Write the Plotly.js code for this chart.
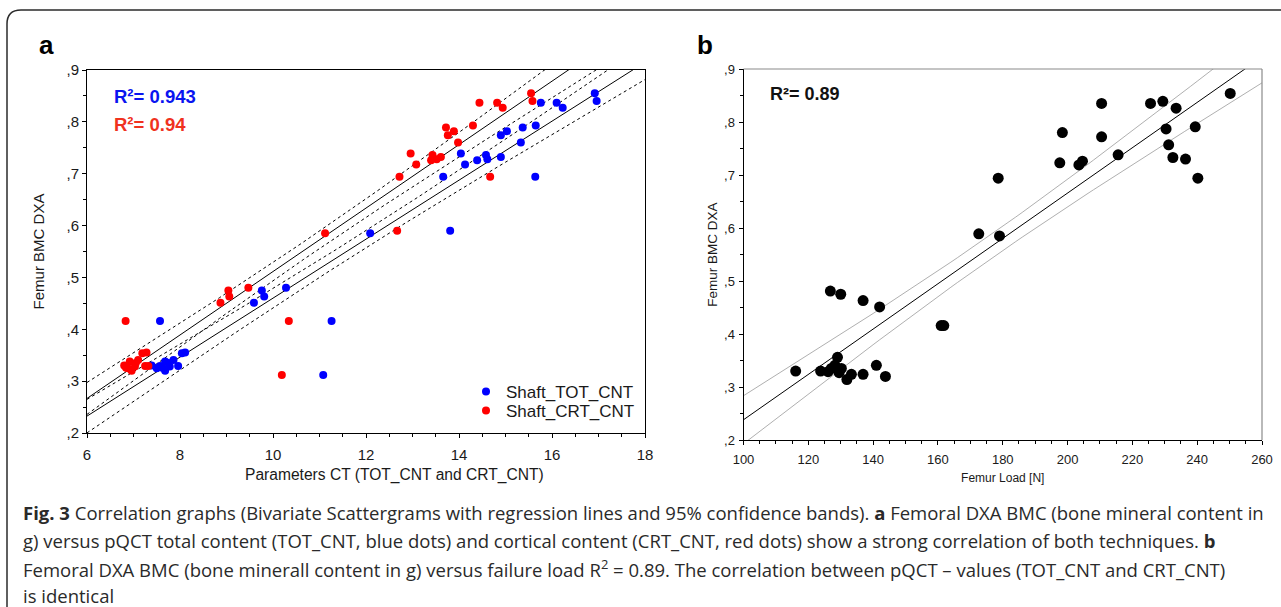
<!DOCTYPE html>
<html>
<head>
<meta charset="utf-8">
<script src="https://cdn.plot.ly/plotly-3.0.1.min.js"></script>
<style>
  html, body { margin: 0; padding: 0; background: #fff; }
  #chart { width: 1281px; height: 607px; }
</style>
</head>
<body>
<div id="chart"></div>
<script>
// ---------- Data ----------
// Panel a: Femur BMC DXA vs pQCT parameters
const bmcA = [0.855,0.840,0.837,0.837,0.827,0.793,0.789,0.782,0.774,0.760,0.739,0.736,0.732,0.728,0.726,0.718,0.694,0.694,0.590,0.585,0.480,0.475,0.463,0.451,0.416,0.416,0.312,0.355,0.354,0.341,0.338,0.335,0.330,0.329,0.329,0.328,0.325,0.320,0.326];
const crtCnt = [15.55,15.58,14.44,14.82,14.94,14.30,13.72,13.89,13.76,13.98,12.96,13.43,13.61,13.52,13.40,13.08,12.72,14.67,12.67,11.12,9.47,9.04,9.06,8.87,6.83,10.34,10.19,7.28,7.19,7.10,6.92,7.05,6.80,7.25,7.32,7.03,6.88,6.96,6.84];
const totCnt = [16.92,16.96,15.76,16.10,16.23,15.65,15.37,15.03,14.90,15.33,14.04,14.58,14.90,14.61,14.39,14.13,13.66,15.64,13.81,12.09,10.28,9.76,9.81,9.59,7.57,11.26,11.08,8.11,8.04,7.86,7.68,7.75,7.39,7.96,7.57,7.78,7.50,7.68,7.62];
// Panel b: Femur BMC DXA vs femur load
const femurLoad = [250.2,229.4,210.5,225.6,233.5,230.4,239.4,198.4,210.5,231.2,215.6,232.5,236.4,204.6,197.6,203.5,178.6,240.2,172.6,179.0,126.8,130.0,136.9,142.0,161.0,161.8,116.1,123.8,126.1,129.0,128.2,127.1,130.2,129.5,131.9,133.3,136.9,141.0,143.8];
const bmcB = [0.854,0.839,0.835,0.835,0.826,0.787,0.791,0.780,0.772,0.757,0.738,0.733,0.730,0.726,0.723,0.719,0.694,0.694,0.589,0.585,0.481,0.475,0.463,0.451,0.416,0.416,0.330,0.330,0.329,0.356,0.341,0.335,0.335,0.327,0.314,0.324,0.324,0.341,0.320];

const yTickVals = [0.2,0.3,0.4,0.5,0.6,0.7,0.8,0.9];
const yTickText = [",2",",3",",4",",5",",6",",7",",8",",9"];
const r2Tot = "R²= 0.943", r2Crt = "R²= 0.94", r2Load = "R²= 0.89";
const seriesNames = ["Shaft_TOT_CNT", "Shaft_CRT_CNT"];

// ---------- Regression with 95% confidence bands for the mean ----------
function fitBands(xs, ys, x0, x1) {
  const n = xs.length;
  const mx = xs.reduce((a, b) => a + b, 0) / n;
  const my = ys.reduce((a, b) => a + b, 0) / n;
  let sxx = 0, sxy = 0;
  for (let i = 0; i < n; i++) { sxx += (xs[i]-mx)**2; sxy += (xs[i]-mx)*(ys[i]-my); }
  const b = sxy / sxx, a = my - b * mx;
  let sse = 0;
  for (let i = 0; i < n; i++) sse += (ys[i] - a - b*xs[i])**2;
  const s = Math.sqrt(sse / (n - 2));
  const t = 1.96 + 2.37 / (n - 2);
  const gx = [], fit = [], lo = [], hi = [];
  const steps = 80;
  for (let k = 0; k <= steps; k++) {
    const x = x0 + (x1 - x0) * k / steps;
    const yh = a + b * x;
    const se = s * Math.sqrt(1/n + (x-mx)**2 / sxx);
    gx.push(x); fit.push(yh); lo.push(yh - t*se); hi.push(yh + t*se);
  }
  return { gx, fit, lo, hi };
}

const W = 1281, H = 607;
const px = v => v / W, py = v => 1 - v / H;

const fTot = fitBands(totCnt, bmcA, 6, 18);
const fCrt = fitBands(crtCnt, bmcA, 6, 18);
const fLoad = fitBands(femurLoad, bmcB, 100, 260);

function lineTrace(x, y, xa, ya, dash, color, width) {
  return { x, y, xaxis: xa, yaxis: ya, mode: 'lines', type: 'scatter', showlegend: false,
           hoverinfo: 'skip', line: { color, width, dash } };
}

const traces = [
  lineTrace(fCrt.gx, fCrt.hi, 'x', 'y', 'dot', '#000', 1),
  lineTrace(fCrt.gx, fCrt.fit, 'x', 'y', 'solid', '#000', 1),
  lineTrace(fCrt.gx, fCrt.lo, 'x', 'y', 'dot', '#000', 1),
  lineTrace(fTot.gx, fTot.hi, 'x', 'y', 'dot', '#000', 1),
  lineTrace(fTot.gx, fTot.fit, 'x', 'y', 'solid', '#000', 1),
  lineTrace(fTot.gx, fTot.lo, 'x', 'y', 'dot', '#000', 1),
  lineTrace(fLoad.gx, fLoad.hi, 'x2', 'y2', 'solid', '#9a9a9a', 0.8),
  lineTrace(fLoad.gx, fLoad.fit, 'x2', 'y2', 'solid', '#000', 1),
  lineTrace(fLoad.gx, fLoad.lo, 'x2', 'y2', 'solid', '#9a9a9a', 0.8),
  { x: totCnt, y: bmcA, xaxis: 'x', yaxis: 'y', mode: 'markers', type: 'scatter', name: seriesNames[0],
    legend: 'legend', marker: { color: '#0000ff', size: 8 } },
  { x: crtCnt, y: bmcA, xaxis: 'x', yaxis: 'y', mode: 'markers', type: 'scatter', name: seriesNames[1],
    legend: 'legend2', marker: { color: '#ff0000', size: 8 } },
  { x: femurLoad, y: bmcB, xaxis: 'x2', yaxis: 'y2', mode: 'markers', type: 'scatter', showlegend: false,
    marker: { color: '#000', size: 11 } }
];

const chartFont = 'Liberation Sans, Arial, Helvetica, sans-serif';
const capFont = 'Open Sans, Noto Sans, sans-serif';

function axisCommon(extra) {
  return Object.assign({
    showgrid: false, zeroline: false, showline: true, linecolor: '#000', linewidth: 1,
    ticks: 'outside', tickcolor: '#000', ticklen: 4, tickwidth: 1, automargin: false,
    tickfont: { family: chartFont, size: 15, color: '#1a1a1a' }
  }, extra);
}

const legendBase = {
  xanchor: 'left', yanchor: 'middle', bgcolor: 'rgba(0,0,0,0)', borderwidth: 0,
  font: { family: chartFont, size: 17, color: '#1a1a1a' }, itemwidth: 30, tracegroupgap: 0
};

const captionLines = [
  "<b>Fig. 3</b> Correlation graphs (Bivariate Scattergrams with regression lines and 95% confidence bands). <b>a</b> Femoral DXA BMC (bone mineral content in",
  "g) versus pQCT total content (TOT_CNT, blue dots) and cortical content (CRT_CNT, red dots) show a strong correlation of both techniques. <b>b</b>",
  "Femoral DXA BMC (bone minerall content in g) versus failure load R<sup>2</sup> = 0.89. The correlation between pQCT – values (TOT_CNT and CRT_CNT)",
  "is identical"
];
const captionY = [512, 540, 568, 595];

function paperText(text, x, y, size, color, xanchor, extra) {
  return Object.assign({ text, x: px(x), y: py(y), xref: 'paper', yref: 'paper', showarrow: false,
    xanchor: xanchor || 'left', yanchor: 'middle', font: { family: chartFont, size, color } }, extra || {});
}

const annotations = [
  paperText('<b>a</b>', 46, 45, 26, '#000', 'center'),
  paperText('<b>b</b>', 705, 45, 26, '#000', 'center'),
  paperText('<b>' + r2Tot + '</b>', 112, 97, 18.5, '#0a14f0'),
  paperText('<b>' + r2Crt + '</b>', 112, 124, 18.5, '#f0321e'),
  paperText('<b>' + r2Load + '</b>', 768, 94, 18, '#111'),
  paperText('Parameters CT (TOT_CNT and CRT_CNT)', 394, 475, 15.6, '#1a1a1a', 'center')
];
captionLines.forEach((t, i) => annotations.push(
  paperText(t, 21, captionY[i], 18.5, '#2a2a2a', 'left', { font: { family: capFont, size: 18.5, color: '#2a2a2a' } })
));

const shapes = [
  // outer rounded frame
  { type: 'path', xref: 'paper', yref: 'paper',
    path: `M ${px(7)},${py(640)} L ${px(7)},${py(24)} Q ${px(7)},${py(10)} ${px(21)},${py(10)} L ${px(1300)},${py(10)}`,
    line: { color: '#2b2b2b', width: 1.5 } },
  // panel b gray top/right frame
  { type: 'line', xref: 'x2 domain', yref: 'y2 domain', x0: 0, x1: 1, y0: 1, y1: 1, line: { color: '#8a8a8a', width: 1.2 } },
  { type: 'line', xref: 'x2 domain', yref: 'y2 domain', x0: 1, x1: 1, y0: 0, y1: 1, line: { color: '#8a8a8a', width: 1.2 } }
];

const layout = {
  width: W, height: H, margin: { l: 0, r: 0, t: 0, b: 0 },
  paper_bgcolor: '#fff', plot_bgcolor: '#fff',
  font: { family: chartFont, color: '#1a1a1a' },
  xaxis: axisCommon({
    domain: [px(87), px(645)], range: [6, 18], tickvals: [6,8,10,12,14,16,18], mirror: true,
    minor: { dtick: 0.5, ticklen: 3, tickcolor: '#000', ticks: 'outside' },
    ticklabelstandoff: 4,
    anchor: 'y'
  }),
  yaxis: axisCommon({
    domain: [py(433), py(70)], range: [0.2, 0.9], tickvals: yTickVals, ticktext: yTickText, mirror: true,
    minor: { dtick: 0.05, ticklen: 3, tickcolor: '#000', ticks: 'outside' },
    ticklabelstandoff: 0,
    title: { text: 'Femur BMC DXA', standoff: 18, font: { family: chartFont, size: 15, color: '#1a1a1a' } },
    anchor: 'x'
  }),
  xaxis2: axisCommon({
    domain: [px(743.5), px(1262)], range: [100, 260], tickvals: [100,120,140,160,180,200,220,240,260],
    minor: { dtick: 5, ticklen: 3, tickcolor: '#000', ticks: 'outside' },
    ticklabelstandoff: 3,
    tickfont: { family: chartFont, size: 13, color: '#1a1a1a' },
    title: { text: 'Femur Load [N]', standoff: 8, font: { family: chartFont, size: 12, color: '#1a1a1a' } },
    anchor: 'y2'
  }),
  yaxis2: axisCommon({
    domain: [py(440), py(69)], range: [0.2, 0.9], tickvals: yTickVals, ticktext: yTickText,
    minor: { dtick: 0.05, ticklen: 3, tickcolor: '#000', ticks: 'outside' },
    ticklabelstandoff: 1,
    tickfont: { family: chartFont, size: 13, color: '#1a1a1a' },
    title: { text: 'Femur BMC DXA', standoff: 3, font: { family: chartFont, size: 13.5, color: '#1a1a1a' } },
    anchor: 'x2'
  }),
  legend: Object.assign({}, legendBase, { x: px(466), y: py(392) }),
  legend2: Object.assign({}, legendBase, { x: px(466), y: py(411) }),
  annotations, shapes
};

Plotly.newPlot('chart', traces, layout, { staticPlot: true, displayModeBar: false });
</script>
</body>
</html>
